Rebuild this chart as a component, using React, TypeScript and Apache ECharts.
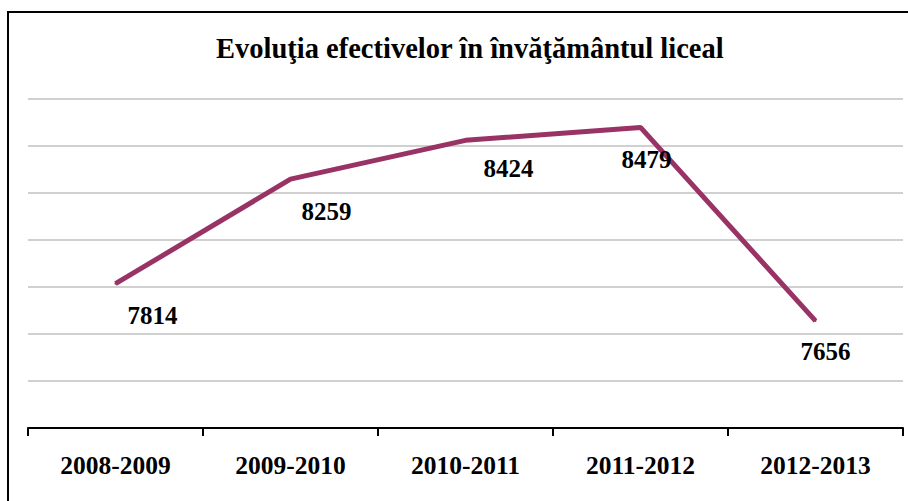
import React, { useEffect, useRef } from "react";
import * as echarts from "echarts";

const title = "Evoluţia efectivelor în învăţământul liceal";
const categories = ["2008-2009", "2009-2010", "2010-2011", "2011-2012", "2012-2013"];
const values = [7814, 8259, 8424, 8479, 7656];
const yMin = 7200;
const yMax = 8600;
const yInterval = 200;

// label placement offsets (px) relative to each point, as in the original
const labelOffsets: [number, number][] = [
  [37, 32],
  [36, 32],
  [43, 28],
  [6, 32],
  [10, 31],
];

const FONT = "'Liberation Serif', 'Times New Roman', serif";

export default function App() {
  const ref = useRef<HTMLDivElement>(null);
  useEffect(() => {
    if (!ref.current) return;
    const chart = echarts.init(ref.current, undefined, { renderer: "svg" });
    chart.setOption({
      animation: false,
      backgroundColor: "#ffffff",
      title: {
        text: title,
        left: 211,
        top: 29,
        textStyle: {
          fontFamily: FONT,
          fontWeight: "bold",
          fontSize: 28.5,
          color: "#000000",
        },
      },
      graphic: [
        {
          type: "rect",
          shape: { x: 8, y: 12, width: 920, height: 520 },
          style: { fill: "none", stroke: "#000000", lineWidth: 2 },
          silent: true,
        },
      ],
      grid: { left: 28, right: 5, top: 99, bottom: 73 },
      xAxis: {
        type: "category",
        data: categories,
        boundaryGap: true,
        axisLine: { show: true, lineStyle: { color: "#000000", width: 2 } },
        axisTick: { show: true, length: 8, lineStyle: { color: "#000000", width: 2 } },
        axisLabel: {
          margin: 24,
          fontFamily: FONT,
          fontWeight: "bold",
          fontSize: 25.5,
          color: "#000000",
        },
        splitLine: { show: false },
      },
      yAxis: {
        type: "value",
        min: yMin,
        max: yMax,
        interval: yInterval,
        axisLine: { show: false },
        axisTick: { show: false },
        axisLabel: { show: false },
        splitLine: { show: true, lineStyle: { color: "#c0c0c0", width: 1.5 } },
      },
      series: [
        {
          type: "line",
          data: values.map((v, i) => ({
            value: v,
            label: { offset: labelOffsets[i] },
          })),
          symbol: "circle",
          symbolSize: 2,
          itemStyle: { color: "#993366" },
          lineStyle: { color: "#993366", width: 5 },
          label: {
            show: true,
            position: "inside",
            fontFamily: FONT,
            fontWeight: "bold",
            fontSize: 25,
            color: "#000000",
          },
        },
      ],
    });
    return () => chart.dispose();
  }, []);
  return (
    <div
      ref={ref}
      style={{ position: "fixed", left: 0, top: 0, width: 908, height: 501 }}
    />
  );
}
